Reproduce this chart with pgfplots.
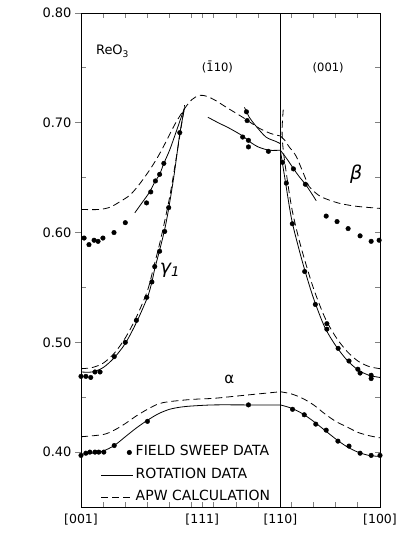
\documentclass[border=0pt]{standalone}
\usepackage{pgfplots}
\pgfplotsset{compat=1.18}
\usepackage{fontspec}
\setmainfont{DejaVu Sans}
\usetikzlibrary{calc}
\begin{document}
\begin{tikzpicture}
\pgfplotsset{
  common/.style={scale only axis, width=299bp, height=494bp,
    xmin=0, xmax=135, ymin=0.35, ymax=0.80,
    axis line style={line width=0.8bp}, tick style={line width=0.8bp},
    /pgf/number format/assume math mode=true},
  sol/.style={line width=0.8bp, smooth, black, forget plot},
  das/.style={line width=0.8bp, smooth, black, dash pattern=on 7bp off 4bp, forget plot},
  pts/.style={only marks, mark=*, mark size=2.3bp, black, forget plot},
}
% main axis
\begin{axis}[common, name=A,
  tick align=inside, major tick length=5bp,
  xtick={10,20,30,40,50,54.74,60,70,80,95,105,115,125}, xticklabels={},
  extra x ticks={0,54.74,90,135},
  extra x tick labels={{[001]},{[111]},{[110]},{[100]}},
  extra x tick style={major tick length=0pt, tick label style={font=\fontsize{12.5bp}{14bp}\selectfont, yshift=-3bp}},
  ytick={0.45,0.55,0.65,0.75}, yticklabels={},
  legend style={draw=none, fill=none, inner sep=0pt, at={(rel axis cs:0.066,0.128)}, anchor=north west,
     font=\fontsize{14bp}{16bp}\selectfont, row sep=5.5bp,
     nodes={inner sep=2bp, text height=10bp, text depth=3bp}},
  legend cell align=left,
]
\addlegendimage{legend image code/.code={\path[draw=none, fill=none] (0bp,-1bp) rectangle (32bp,1bp); \fill[black] (28bp,0bp) circle[radius=2.3bp];}}
\addlegendentry{FIELD SWEEP DATA}
\addlegendimage{legend image code/.code={\draw[black, line width=0.8bp] (0bp,0bp) -- (32bp,0bp);}}
\addlegendentry{ROTATION DATA}
\addlegendimage{legend image code/.code={\draw[black, line width=0.8bp, dash pattern=on 7bp off 4bp] (0bp,0bp) -- (32bp,0bp);}}
\addlegendentry{APW CALCULATION}

% vertical line at [110]
\addplot[line width=0.8bp, black, forget plot] coordinates {(90,0.35) (90,0.80)};

% ---- alpha ----
\addplot[sol] coordinates {(0,0.398) (5,0.399) (10,0.401) (15,0.406) (20,0.414) (25,0.422) (30,0.429) (35,0.435) (40,0.439) (45,0.441) (50,0.442) (60,0.443) (75,0.443) (90,0.443)};
\addplot[sol] coordinates {(90,0.443) (95,0.440) (100,0.435) (105,0.428) (110,0.420) (115,0.412) (120,0.405) (125,0.400) (130,0.397) (135,0.396)};
\addplot[das] coordinates {(0,0.414) (10,0.416) (15,0.420) (20,0.426) (25,0.433) (30,0.439) (35,0.444) (40,0.446) (50,0.448) (60,0.449) (70,0.451) (80,0.453) (90,0.455)};
\addplot[das] coordinates {(90,0.455) (95,0.453) (100,0.449) (105,0.443) (110,0.435) (115,0.428) (120,0.423) (125,0.418) (130,0.415) (135,0.413)};
\addplot[pts] coordinates {(0,0.397) (2.2,0.399) (4,0.400) (6.3,0.400) (8,0.400) (10.3,0.400) (15,0.406) (30,0.428) (75.6,0.443) (95.5,0.439) (100.8,0.434) (106,0.4255) (110.7,0.420) (116,0.410) (121,0.4055) (126,0.399) (131,0.397) (135,0.397)};

% ---- gamma_1 ----
\addplot[sol] coordinates {(0,0.473) (5,0.473) (10,0.477) (15,0.486) (20,0.499) (25,0.518) (30,0.541) (32,0.555) (33.3,0.567) (35.5,0.584) (37.8,0.603) (39.6,0.622) (42,0.652) (44.6,0.690) (46.8,0.714)};
\addplot[das] coordinates {(0,0.476) (5,0.477) (10,0.481) (15,0.490) (20,0.504) (25,0.523) (30,0.547) (33,0.570) (36,0.594) (40,0.632) (43,0.668) (46.8,0.716)};
\addplot[sol] coordinates {(90,0.675) (92,0.650) (95,0.613) (98,0.588) (101,0.566) (105,0.540) (110,0.514) (115,0.497) (120,0.484) (125,0.475) (130,0.470) (135,0.468)};
\addplot[das] coordinates {(91.3,0.712) (90.8,0.695) (91,0.682) (92,0.664) (95,0.624) (98,0.597) (101,0.575) (105,0.549) (110,0.523) (115,0.505) (120,0.492) (125,0.483) (130,0.478) (135,0.476)};
\addplot[pts] coordinates {(0,0.469) (2.2,0.469) (4.4,0.468) (6.3,0.473) (8.6,0.473) (15,0.487) (20,0.500) (25,0.520) (29.7,0.541) (32,0.555) (33.3,0.569) (35.5,0.583) (37.8,0.601) (39.6,0.6227) (44.6,0.691)};
\addplot[pts] coordinates {(91,0.664) (92.7,0.645) (95.4,0.608) (101,0.5645) (105.8,0.5345) (111,0.517) (111,0.512) (116.1,0.4945) (121,0.483) (125,0.4755) (126,0.472) (131,0.470) (131,0.467)};

% ---- beta ----
\addplot[das] coordinates {(0,0.621) (8,0.621) (13,0.623) (17.5,0.628) (22,0.634) (26,0.643) (31,0.657) (35,0.670) (38.7,0.684) (42.5,0.699) (46.8,0.713) (50,0.721) (53.5,0.725) (57,0.724) (61,0.720) (65.7,0.714) (73,0.705) (80.5,0.695) (86,0.690) (90,0.688)};
\addplot[das] coordinates {(90,0.688) (92,0.684) (94,0.678) (97,0.670) (100,0.656) (103,0.642) (106,0.636) (109,0.632) (116,0.627) (124,0.624) (135,0.622)};
\addplot[sol] coordinates {(24.3,0.618) (27.5,0.627) (31,0.637) (33.3,0.646) (35.5,0.653) (37.4,0.663) (40,0.675) (43,0.692) (46.6,0.713)};
\addplot[sol] coordinates {(57.3,0.705) (62,0.700) (67,0.695) (73,0.688) (76,0.683) (80,0.678) (85,0.675) (90,0.675)};
\addplot[sol] coordinates {(73.8,0.714) (76,0.705) (79,0.697) (83.5,0.687) (88,0.683) (90,0.681)};
\addplot[sol] coordinates {(90,0.675) (93,0.667) (96,0.658) (98.5,0.651) (101.3,0.644) (104,0.636) (106.2,0.629)};
\addplot[pts] coordinates {(1.4,0.595) (3.6,0.589) (5.9,0.593) (7.7,0.592) (9.9,0.595) (14.9,0.600) (20,0.609) (29.6,0.627) (31.5,0.637) (33.6,0.647) (35.5,0.653) (37.4,0.663)};
\addplot[pts] coordinates {(74.7,0.710) (75,0.702) (73,0.687) (75.6,0.684) (75.6,0.678) (84.6,0.674)};
\addplot[pts] coordinates {(95.9,0.658) (101.3,0.644) (110.7,0.615) (115.6,0.610) (120.6,0.6036) (126,0.597) (131,0.592) (134.6,0.593)};

% ---- labels ----
\node[anchor=base west, font=\fontsize{13bp}{15bp}\selectfont, inner sep=0pt] at (axis cs:6.7,0.762) {ReO\textsubscript{3}};
\node[anchor=base, font=\fontsize{11.5bp}{13bp}\selectfont, inner sep=0pt] at (axis cs:61.6,0.747) {(\={1}10)};
\node[anchor=base, font=\fontsize{11.5bp}{13bp}\selectfont, inner sep=0pt] at (axis cs:111.6,0.747) {(001)};
\node[font=\fontsize{19bp}{21bp}\selectfont\itshape, inner sep=0pt] at (axis cs:124.2,0.6527) {β};
\node[font=\fontsize{15bp}{17bp}\selectfont, inner sep=0pt] at (axis cs:67,0.4664) {α};
\node[font=\fontsize{19bp}{21bp}\selectfont\itshape, inner sep=0pt] at (axis cs:40.2,0.566) {γ\textsubscript{1}};
\node[rotate=90, font=\fontsize{14bp}{16bp}\selectfont, inner sep=0pt] at (rel axis cs:-0.18,0.468) {AREA\enspace(Å\textsuperscript{-2})};
\end{axis}
% left major ticks with labels
\begin{axis}[common, axis x line=none, axis y line*=left,
  tick align=outside, major tick length=6bp,
  ytick={0.40,0.50,0.60,0.70,0.80},
  yticklabel style={font=\fontsize{13bp}{15bp}\selectfont, /pgf/number format/.cd, fixed, fixed zerofill, precision=2},
]
\end{axis}
% right major ticks inside
\begin{axis}[common, axis x line=none, axis y line*=right,
  tick align=inside, major tick length=5bp,
  ytick={0.40,0.50,0.60,0.70}, yticklabels={},
]
\end{axis}
\pgfresetboundingbox
\path ($(A.south west)+(-81bp,-28bp)$) rectangle ($(A.north east)+(19bp,13bp)$);
\end{tikzpicture}
\end{document}
